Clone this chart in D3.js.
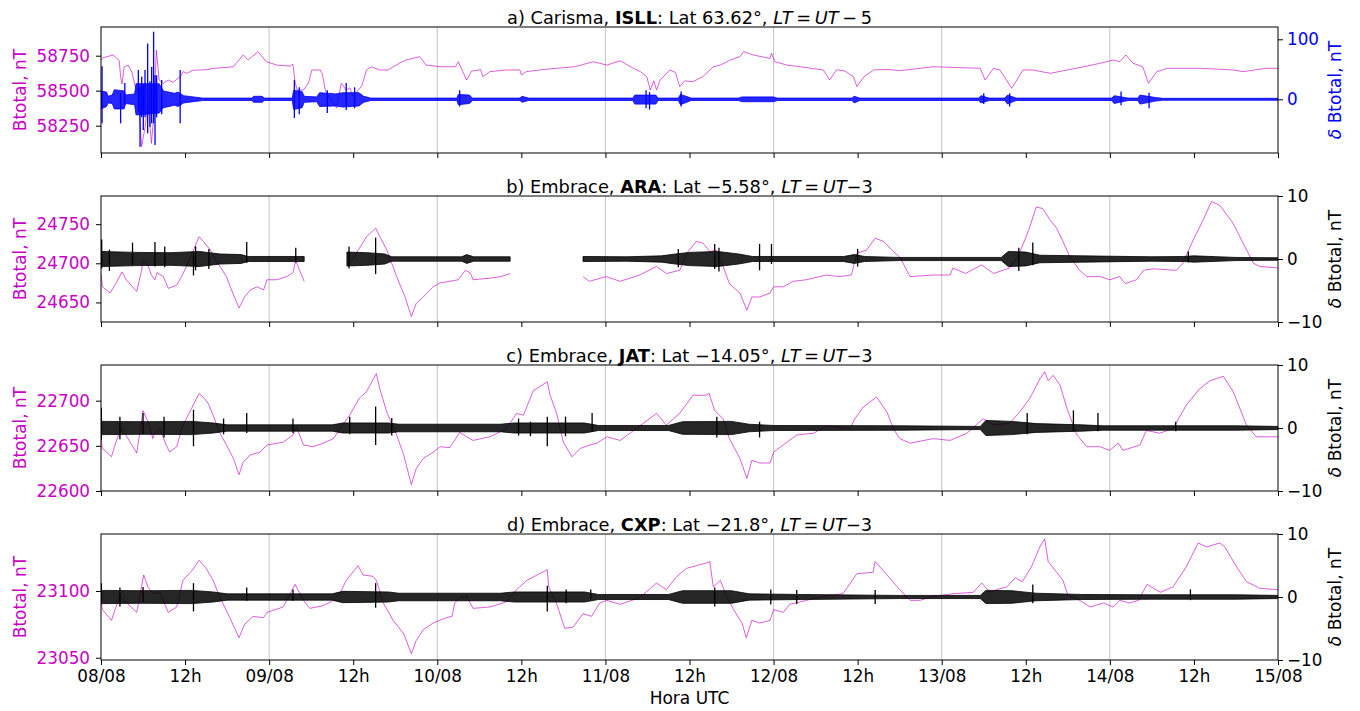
<!DOCTYPE html>
<html>
<head>
<meta charset="utf-8">
<script src="https://cdn.jsdelivr.net/npm/d3@7"></script>
<style>
  body { margin: 0; background: #fff; }
  svg { display: block; }
</style>
</head>
<body>
<svg id="chart" width="1360" height="711"></svg>
<script>
// Time axis: hours since 08/08 00:00 UTC, labelled every 12 hours
const xTickHours = [0, 12, 24, 36, 48, 60, 72, 84, 96, 108, 120, 132, 144, 156, 168];
const xTickLabels = ["08/08","12h","09/08","12h","10/08","12h","11/08","12h","12/08","12h","13/08","12h","14/08","12h","15/08"];
const dayGridHours = [24, 48, 72, 96, 120, 144];

// ---------- a) ISLL ----------
// Btotal [hour, nT]
const islBtotal = [[0,58720],[0.3,58735],[1.0,58745],[1.7,58755],[2.2,58735],[2.6,58715],[2.8,58600],[3.0,58548],[3.3,58670],[3.9,58683],[4.4,58633],[4.9,58529],[5.3,58480],[5.8,58100],[6.3,58243],[6.7,58433],[7.2,58124],[7.5,58300],[7.9,58790],[8.3,58576],[8.9,58552],[9.6,58576],[10.3,58560],[11.3,58600],[11.7,58636],[12.3,58624],[13.0,58645],[14.1,58648],[15.1,58650],[16.1,58660],[17.5,58665],[18.9,58671],[19.3,58696],[20.3,58755],[21.0,58719],[22.4,58779],[23.6,58707],[25.1,58683],[27.0,58676],[27.4,58690],[27.7,58564],[28.0,58505],[28.9,58505],[29.6,58553],[30.1,58648],[31.3,58648],[31.6,58620],[32.0,58505],[32.5,58460],[33.6,58376],[34.3,58553],[35.0,58505],[35.5,58520],[36.0,58457],[36.7,58505],[37.2,58530],[37.9,58648],[38.6,58671],[39.8,58648],[41.0,58648],[41.7,58671],[42.6,58696],[43.5,58719],[45.5,58743],[46.4,58683],[48.4,58671],[50.6,58671],[51.0,58707],[52.2,58576],[52.9,58640],[54.2,58650],[54.5,58600],[55.5,58636],[57.9,58648],[59.8,58648],[60.0,58612],[60.7,58636],[62.6,58648],[65.0,58660],[67.6,58671],[70.3,58707],[72.2,58683],[74.1,58714],[76.0,58660],[77.0,58636],[77.9,58600],[78.4,58505],[78.9,58570],[79.3,58505],[79.8,58576],[81.2,58648],[82.0,58630],[82.6,58529],[83.3,58570],[84.5,58564],[85.9,58600],[87.4,58671],[88.4,58683],[89.8,58719],[91.2,58743],[91.7,58779],[93.1,58755],[95.5,58731],[95.7,58767],[96.2,58707],[97.9,58683],[99.8,58671],[103.1,58648],[104.0,58576],[105.0,58650],[106.2,58640],[107.4,58600],[107.9,58529],[108.9,58600],[110.3,58648],[112.2,58652],[114.0,58643],[118.8,58671],[125.5,58660],[126.2,58576],[127.4,58660],[128.3,58648],[130.0,58517],[131.6,58648],[133.0,58648],[135.5,58624],[137.9,58648],[140.3,58671],[142.6,58696],[144.5,58719],[145.4,58707],[146.3,58755],[147.3,58696],[148.7,58671],[149.5,58553],[150.7,58636],[152.2,58660],[156.9,58660],[161.6,58648],[163.0,58636],[166.3,58660],[168,58660]];
// delta Btotal fluctuation envelope [hour, upper, lower]
const islDelta = [[0,14,-16],[0.8,12,-12],[1.0,5,-6],[1.6,7,-7],[1.9,16,-16],[3.3,14,-16],[3.5,7,-7],[4.8,9,-9],[5.0,26,-26],[8.3,26,-23],[8.9,14,-14],[10.5,10,-10],[11.0,12,-12],[11.8,6,-6],[13.5,3.5,-3.5],[14.5,2,-2],[21.5,2,-2],[21.8,5,-5],[23,5,-5],[23.3,2,-2],[27.3,2,-2],[27.5,15,-17],[28.7,13,-14],[29.0,5,-5],[30.8,4,-4],[31.2,11,-12],[33.5,9,-11],[34.5,11,-13],[36.8,11,-11],[37.5,5,-5],[38.5,2,-2],[50.8,2,-2],[51.0,8,-9],[52.6,7,-7],[53.0,2,-2],[59.8,2,-2],[60.1,5,-5],[61.0,2,-2],[75.9,2,-2],[76.2,7,-8],[79.2,7,-8],[79.5,2,-2],[82.4,2,-2],[82.7,8,-9],[83.8,4,-4],[84.2,2,-2],[91.0,2,-2],[91.5,4,-4],[96.0,4,-4],[96.5,2,-2],[107.2,2,-2],[107.5,5,-6],[108.3,2,-2],[125.3,2,-2],[125.6,6,-6],[126.8,2,-2],[129.0,2,-2],[129.4,7,-8],[130.6,2,-2],[144.3,2,-2],[144.6,6,-7],[146.6,2,-2],[148.0,2,-2],[148.3,7,-8],[150.5,3,-3],[151.5,1.6,-1.6],[168,1.6,-1.6]];
// isolated excursions [hour, max, min]
const islSpikes = [[0.15,55,-40],[2.8,10,-40],[3.4,27,-10],[5.33,48.8,-20],[5.57,20,-79],[5.81,37.7,-30],[6.04,25,-51],[6.28,48.8,-30],[6.66,93,-56.7],[6.99,30,-45.6],[7.23,54,-40],[7.51,112.7,-40],[7.71,40,-76],[7.94,40,-30],[8.66,32,-25],[11.3,49,-40],[27.6,32,-31],[28.3,20,-25],[32.3,15,-23],[35.0,27,-18],[36.2,20,-15],[51.2,15,-12],[77.8,15,-15],[78.3,12,-17],[82.8,13,-12],[126,10,-8],[129.7,10,-12],[145.6,13,-10],[149.6,11,-15]];
const islLeftTicks = [58250, 58500, 58750];
const islRightTicks = [0, 100];

// ---------- b) ARA ----------
const araBtotal = [[0,24687],[0.2,24670],[1.3,24662],[2.1,24674],[3.0,24689],[3.6,24679],[5.1,24664],[5.8,24691],[6.0,24704],[6.7,24697],[7.2,24685],[7.7,24679],[8.0,24688],[8.9,24683],[9.6,24668],[10.8,24672],[11.5,24683],[12.4,24700],[13.2,24717],[14.0,24734],[14.6,24728],[15.6,24717],[16.4,24704],[17.9,24683],[18.8,24662],[19.7,24643],[20.5,24657],[21.3,24666],[22.3,24670],[23.2,24666],[23.7,24679],[25.1,24679],[26.5,24683],[27.4,24688],[27.8,24704],[28.3,24692],[29.0,24677],null,[35.1,24696],[36.1,24708],[37.0,24721],[37.9,24734],[39.2,24745],[39.8,24734],[40.8,24717],[42.2,24683],[43.4,24657],[44.3,24632],[45.0,24649],[46.0,24657],[47.4,24670],[48.4,24675],[49.8,24677],[51.0,24679],[52.0,24691],[52.7,24688],[53.1,24679],[55.5,24681],[57.1,24683],[58.4,24687],null,[68.8,24683],[69.7,24677],[72.1,24683],[74.1,24677],[76.9,24685],[79.3,24696],[80.7,24687],[82.6,24691],[83.6,24713],[85.0,24728],[85.9,24726],[86.9,24715],[87.8,24717],[88.8,24696],[89.7,24674],[91.2,24662],[92.2,24640],[92.9,24657],[94.0,24657],[95.5,24662],[96.0,24670],[97.4,24670],[98.8,24677],[100.7,24679],[103.5,24685],[105.4,24683],[107.1,24685],[107.9,24713],[109.3,24717],[110.5,24732],[111.7,24728],[113.1,24715],[114.0,24708],[114.5,24700],[115.0,24691],[115.5,24683],[118.8,24685],[121.2,24685],[121.6,24694],[123.4,24687],[125.7,24698],[127.4,24687],[129.7,24694],[131.1,24713],[132.4,24742],[133.5,24772],[134.4,24770],[135.5,24755],[136.4,24745],[137.4,24726],[138.3,24708],[139.7,24691],[140.7,24683],[142.6,24683],[144.0,24679],[145.4,24683],[146.2,24674],[147.8,24679],[148.8,24691],[150.2,24693],[153.5,24691],[154.4,24700],[155.9,24730],[157.3,24755],[158.5,24779],[159.7,24774],[161.6,24751],[163.0,24726],[164.5,24700],[165.4,24696],[168,24694]];
const araDelta = [[0,1.2,-1.2],[5,1.05,-1.05],[10,1.0,-1.0],[14,1.2,-1.2],[17,0.8,-0.8],[20,0.7,-0.7],[21,0.4,-0.4],[29,0.4,-0.4],null,[35.1,1.1,-1.1],[38,1.0,-1.0],[40.5,0.8,-0.8],[41.5,0.35,-0.35],[51.5,0.35,-0.35],[52.2,0.7,-0.7],[53.2,0.35,-0.35],[58.4,0.35,-0.35],null,[68.8,0.4,-0.4],[75,0.35,-0.35],[80,0.5,-0.5],[82,0.8,-0.8],[84,1.05,-1.05],[88,1.2,-1.2],[91,0.8,-0.8],[93,0.4,-0.4],[106,0.4,-0.4],[107.5,0.7,-0.7],[109,0.4,-0.4],[114,0.25,-0.25],[128.5,0.25,-0.25],[129.5,1.2,-1.2],[132,1.1,-1.1],[134,0.6,-0.6],[140,0.5,-0.5],[150,0.35,-0.35],[154.5,0.4,-0.4],[156,0.5,-0.5],[162,0.25,-0.25],[168,0.2,-0.2]];
const araSpikes = [[0.1,3.1,-1.5],[1.2,1.5,-1.9],[4.5,2.6,-1.0],[7.7,2.7,-1.2],[9.1,2.0,-1.3],[13.2,0.9,-2.6],[13.5,2.0,-1.8],[15.4,1.6,-1.6],[20.8,2.7,-0.6],[27.8,1.8,-0.6],[35.4,2.0,-1.5],[39.2,3.4,-2.4],[82.4,1.6,-1.3],[87.6,2.4,-1.6],[88.2,1.8,-2.0],[94.0,2.4,-1.8],[95.7,2.4,-0.8],[108,1.6,-1.2],[131,1.8,-1.9],[133,2.6,-1.0],[155.2,1.2,-0.5]];
const araLeftTicks = [24650, 24700, 24750];

// ---------- c) JAT ----------
const jatBtotal = [[0,22658],[0.2,22647],[1.5,22638],[2.0,22651],[2.5,22662],[3.0,22669],[3.7,22660],[5.1,22642],[6.0,22689],[6.7,22677],[7.4,22658],[7.6,22664],[8.4,22669],[9.3,22651],[9.8,22643],[10.8,22649],[11.7,22673],[12.9,22691],[14.0,22708],[14.6,22704],[15.3,22697],[16.0,22684],[16.9,22665],[17.9,22651],[18.9,22636],[19.7,22618],[20.3,22632],[21.3,22640],[22.7,22643],[23.7,22651],[26.0,22654],[27.4,22662],[27.9,22671],[28.9,22651],[30.3,22649],[31.7,22653],[33.2,22658],[34.1,22669],[35.5,22684],[36.9,22703],[37.9,22710],[39.3,22730],[39.8,22713],[40.8,22687],[42.2,22662],[43.2,22640],[44.3,22607],[45.0,22625],[46.0,22636],[47.4,22643],[48.4,22649],[49.8,22648],[51.2,22665],[52.2,22660],[53.1,22656],[55.5,22660],[57.9,22669],[59.3,22686],[60.3,22684],[61.7,22711],[63.7,22721],[64.1,22706],[65.0,22687],[66.0,22654],[67.2,22638],[68.4,22647],[69.8,22651],[70.8,22653],[72.2,22660],[74.1,22656],[76.9,22672],[79.3,22686],[80.7,22673],[82.6,22686],[84.5,22706],[86.4,22706],[86.8,22708],[87.6,22689],[88.8,22680],[89.7,22658],[91.2,22636],[92.2,22614],[92.9,22634],[94.0,22631],[95.5,22631],[96.0,22643],[97.9,22654],[99.3,22662],[101.7,22664],[103.6,22672],[106.9,22669],[107.6,22680],[108.8,22693],[110.7,22704],[112.2,22687],[113.1,22669],[114.0,22658],[115.5,22653],[118.8,22658],[121.2,22656],[123.6,22664],[125.9,22680],[127.4,22673],[129.7,22675],[131.1,22687],[132.6,22703],[134.0,22724],[134.7,22732],[135.2,22722],[135.9,22728],[136.9,22717],[137.9,22691],[139.3,22662],[140.7,22649],[142.6,22649],[144.0,22645],[145.2,22653],[145.9,22645],[148.3,22651],[149.2,22667],[151.1,22664],[153.0,22669],[154.9,22695],[156.8,22713],[158.3,22722],[160.2,22727],[161.6,22710],[163.5,22673],[164.9,22660],[168,22660]];
const jatDelta = [[0,1.05,-1.05],[6,1.0,-1.0],[13,1.05,-1.05],[16,0.8,-0.8],[18,0.5,-0.5],[33,0.5,-0.5],[34.5,0.8,-0.8],[41,0.8,-0.8],[42.5,0.6,-0.6],[57,0.6,-0.6],[59,0.8,-0.8],[69,0.8,-0.8],[71,0.4,-0.4],[81,0.4,-0.4],[83,1.0,-1.0],[90,1.05,-1.05],[92.5,0.6,-0.6],[96,0.4,-0.4],[114,0.35,-0.35],[125.5,0.25,-0.25],[126.3,1.2,-1.2],[130,1.05,-1.05],[133.5,0.7,-0.7],[140,0.5,-0.5],[143,0.35,-0.35],[162,0.35,-0.35],[168,0.25,-0.25]];
const jatSpikes = [[0.05,3.2,-1.9],[2.7,1.8,-1.8],[6.0,2.4,-1.0],[9.0,1.8,-1.5],[13.2,2.9,-2.9],[17.5,1.5,-1.0],[20.8,2.4,-0.8],[27.4,1.5,-0.8],[35.5,1.8,-1.0],[39.2,3.4,-2.7],[41.5,1.6,-1.2],[59.6,1.5,-1.2],[61.3,1.0,-1.3],[63.7,1.8,-2.9],[66.3,1.8,-1.3],[70.1,2.4,-0.6],[87.9,1.8,-1.5],[94,1.0,-1.5],[132.2,2.4,-1.0],[138.8,2.8,-0.5],[142.3,2.4,-0.5],[153.4,1.0,-0.5]];
const jatLeftTicks = [22600, 22650, 22700];

// ---------- d) CXP ----------
const cxpBtotal = [[0,23093],[0.2,23086],[1.5,23078],[2.0,23086],[2.7,23096],[3.7,23091],[5.1,23084],[6.1,23112],[6.7,23103],[7.4,23098],[8.4,23099],[9.6,23084],[10.8,23088],[11.7,23108],[13.1,23116],[14.0,23123],[15.0,23117],[16.0,23108],[16.9,23096],[18.3,23081],[19.7,23065],[20.5,23075],[21.7,23081],[23.2,23080],[23.7,23084],[26.0,23088],[27.7,23105],[28.9,23093],[29.8,23087],[31.7,23089],[33.2,23093],[34.1,23098],[35.0,23108],[36.7,23119],[37.4,23112],[38.8,23111],[39.3,23108],[40.3,23091],[41.7,23078],[43.2,23068],[44.3,23053],[45.0,23063],[46.0,23071],[47.4,23076],[49.3,23080],[50.1,23081],[50.5,23091],[51.2,23095],[52.2,23096],[53.1,23087],[55.5,23088],[57.9,23092],[59.3,23101],[60.8,23108],[62.6,23113],[63.7,23116],[63.9,23103],[65.0,23091],[66.2,23072],[67.4,23073],[68.8,23083],[70.0,23081],[71.2,23091],[72.2,23093],[74.1,23090],[76.9,23095],[79.3,23106],[80.7,23101],[82.2,23111],[83.6,23117],[86.4,23121],[86.9,23122],[87.4,23103],[88.4,23108],[89.3,23096],[90.3,23086],[91.5,23076],[92.1,23065],[92.9,23078],[94.0,23076],[95.5,23078],[96.0,23086],[97.4,23084],[98.3,23090],[100.7,23093],[103.1,23096],[105.9,23098],[107.9,23113],[110.2,23114],[110.5,23122],[112.2,23112],[114.0,23101],[115.5,23093],[116.9,23093],[118.8,23096],[121.7,23098],[124.5,23099],[125.7,23106],[126.9,23099],[127.8,23101],[129.3,23103],[130.5,23110],[131.5,23107],[132.8,23118],[134.0,23133],[134.7,23139],[135.2,23122],[136.1,23116],[137.3,23108],[138.0,23097],[139.7,23093],[141.2,23088],[143.1,23091],[144.5,23088],[145.4,23093],[146.8,23091],[148.1,23093],[149.3,23105],[151.2,23099],[153.0,23103],[154.9,23118],[156.6,23136],[157.8,23133],[159.7,23136],[160.4,23133],[162.1,23118],[163.5,23107],[165.4,23102],[168,23101]];
const cxpDelta = [[0,1.05,-1.05],[6,1.0,-1.0],[13,1.05,-1.05],[16,0.8,-0.8],[18,0.5,-0.5],[33,0.5,-0.5],[34.5,0.9,-0.9],[41,0.8,-0.8],[42.5,0.6,-0.6],[57,0.6,-0.6],[59,0.8,-0.8],[69,0.8,-0.8],[71,0.4,-0.4],[81,0.4,-0.4],[83,1.0,-1.0],[90,1.0,-1.0],[92.5,0.5,-0.5],[100,0.4,-0.4],[114,0.25,-0.25],[125.5,0.25,-0.25],[126.3,1.05,-1.05],[130,1.0,-1.0],[133.5,0.6,-0.6],[140,0.4,-0.4],[150,0.35,-0.35],[162,0.35,-0.35],[168,0.25,-0.25]];
const cxpSpikes = [[0.05,2.2,-1.2],[2.7,1.5,-1.5],[6.0,1.6,-0.8],[13.2,2.2,-2.3],[20.8,1.5,-0.6],[27.4,1.2,-0.6],[39.2,2.2,-1.7],[63.7,1.8,-2.3],[66.4,1.2,-1.0],[69.9,1.2,-0.5],[87.6,1.5,-1.5],[95.6,1.2,-1.2],[99.3,1.1,-1.1],[110.5,1.1,-1.1],[133,2.0,-1.0],[155.5,1.2,-0.5]];
const cxpLeftTicks = [23050, 23100];

const deltaTicks = [-10, 0, 10];

// ---------- layout ----------
const FONT = "DejaVu Sans, Verdana, sans-serif";
const MAGENTA = "#c800c8";
const left = 101, right = 1278, panelH = 126;

const panels = [
  { top: 27, btotal: islBtotal, delta: islDelta, spikes: islSpikes,
    yLeft: [58055, 58955], leftTicks: islLeftTicks,
    yRight: [-89.5, 120.5], rightTicks: islRightTicks, deltaColor: "#0000ff",
    title: [["a) Carisma, "], ["ISLL", "b"], [": Lat 63.62°, "], ["LT", "i"], ["\u2009=\u2009"], ["UT", "i"], ["\u2009−\u20095"]] },
  { top: 196, btotal: araBtotal, delta: araDelta, spikes: araSpikes,
    yLeft: [24625, 24786], leftTicks: araLeftTicks,
    yRight: [-10, 10], rightTicks: deltaTicks, deltaColor: "#000000",
    title: [["b) Embrace, "], ["ARA", "b"], [": Lat −5.58°, "], ["LT", "i"], ["\u2009=\u2009"], ["UT", "i"], ["−3"]] },
  { top: 365, btotal: jatBtotal, delta: jatDelta, spikes: jatSpikes,
    yLeft: [22600, 22739.5], leftTicks: jatLeftTicks,
    yRight: [-10, 10], rightTicks: deltaTicks, deltaColor: "#000000",
    title: [["c) Embrace, "], ["JAT", "b"], [": Lat −14.05°, "], ["LT", "i"], ["\u2009=\u2009"], ["UT", "i"], ["−3"]] },
  { top: 534, btotal: cxpBtotal, delta: cxpDelta, spikes: cxpSpikes,
    yLeft: [23048.3, 23142.7], leftTicks: cxpLeftTicks,
    yRight: [-10, 10], rightTicks: deltaTicks, deltaColor: "#000000",
    title: [["d) Embrace, "], ["CXP", "b"], [": Lat −21.8°, "], ["LT", "i"], ["\u2009=\u2009"], ["UT", "i"], ["−3"]] }
];

const svg = d3.select("#chart");
const x = d3.scaleLinear().domain([0, 168]).range([left, right]);
const fmtLeft = d3.format("d");
const fmtRight = d => String(d).replace("-", "−");

panels.forEach((p, idx) => {
  const top = p.top, bottom = top + panelH;
  const yL = d3.scaleLinear().domain(p.yLeft).range([bottom, top]);
  const yR = d3.scaleLinear().domain(p.yRight).range([bottom, top]);
  const g = svg.append("g");

  // day grid
  g.selectAll("line.grid").data(dayGridHours).join("line")
    .attr("x1", d => x(d)).attr("x2", d => x(d))
    .attr("y1", top).attr("y2", bottom)
    .attr("stroke", "#c4c4c4").attr("stroke-width", 1);

  const clipId = "clip" + idx;
  svg.append("clipPath").attr("id", clipId).append("rect")
    .attr("x", left).attr("y", top).attr("width", right - left).attr("height", panelH);
  const plot = g.append("g").attr("clip-path", `url(#${clipId})`);

  // Btotal
  const line = d3.line().defined(d => d !== null).x(d => x(d[0])).y(d => yL(d[1]));
  plot.append("path").datum(p.btotal)
    .attr("d", line).attr("fill", "none")
    .attr("stroke", MAGENTA).attr("stroke-width", 0.9).attr("stroke-opacity", 0.7);

  // delta Btotal envelope
  const band = d3.area().defined(d => d !== null)
    .x(d => x(d[0])).y0(d => yR(d[2])).y1(d => yR(d[1]));
  plot.append("path").datum(p.delta)
    .attr("d", band).attr("fill", p.deltaColor).attr("fill-opacity", 0.85)
    .attr("stroke", p.deltaColor).attr("stroke-width", 0.8).attr("stroke-linejoin", "round");

  plot.selectAll("line.spike").data(p.spikes).join("line")
    .attr("x1", d => x(d[0])).attr("x2", d => x(d[0]))
    .attr("y1", d => yR(d[1])).attr("y2", d => yR(d[2]))
    .attr("stroke", p.deltaColor).attr("stroke-width", 1.3);

  // frame
  g.append("rect").attr("x", left).attr("y", top)
    .attr("width", right - left).attr("height", panelH)
    .attr("fill", "none").attr("stroke", "#000").attr("stroke-width", 1);

  // x axis ticks (labels only on the bottom panel)
  const isLast = idx === panels.length - 1;
  const xAxis = d3.axisBottom(x).tickValues(xTickHours)
    .tickFormat((d, i) => isLast ? xTickLabels[i] : "")
    .tickSize(5).tickPadding(5);
  const gx = g.append("g").attr("transform", `translate(0,${bottom})`).call(xAxis);
  gx.select(".domain").remove();
  gx.selectAll("text").attr("font-family", FONT).attr("font-size", 16.8).attr("fill", "#000");

  // left axis
  const gl = g.append("g").attr("transform", `translate(${left},0)`)
    .call(d3.axisLeft(yL).tickValues(p.leftTicks).tickFormat(fmtLeft).tickSize(5).tickPadding(6));
  gl.select(".domain").remove();
  gl.selectAll("text").attr("font-family", FONT).attr("font-size", 16.8).attr("fill", MAGENTA);

  // right axis
  const gr = g.append("g").attr("transform", `translate(${right},0)`)
    .call(d3.axisRight(yR).tickValues(p.rightTicks).tickSize(5).tickPadding(4).tickFormat(fmtRight));
  gr.select(".domain").remove();
  gr.selectAll("text").attr("font-family", FONT).attr("font-size", 16.8).attr("fill", p.deltaColor);

  // axis titles
  const mid = (top + bottom) / 2;
  g.append("text").attr("transform", `translate(26,${mid}) rotate(-90)`)
    .attr("text-anchor", "middle").attr("font-family", FONT).attr("font-size", 17)
    .attr("fill", MAGENTA).text("Btotal, nT");
  const rl = g.append("text").attr("transform", `translate(1341,${mid}) rotate(-90)`)
    .attr("text-anchor", "middle").attr("font-family", FONT).attr("font-size", 17)
    .attr("fill", p.deltaColor);
  rl.append("tspan").attr("font-style", "italic").text("δ");
  rl.append("tspan").text(" Btotal, nT");

  // panel title
  const t = g.append("text").attr("x", (left + right) / 2).attr("y", top - 3)
    .attr("text-anchor", "middle").attr("font-family", FONT).attr("font-size", 17.8)
    .attr("fill", "#000");
  p.title.forEach(([s, style]) => {
    const ts = t.append("tspan").text(s);
    if (style === "b") ts.attr("font-weight", "bold");
    if (style === "i") ts.attr("font-style", "italic");
  });
});

svg.append("text").attr("x", (left + right) / 2).attr("y", 704)
  .attr("text-anchor", "middle").attr("font-family", FONT).attr("font-size", 17)
  .attr("fill", "#000").text("Hora UTC");
</script>
</body>
</html>
